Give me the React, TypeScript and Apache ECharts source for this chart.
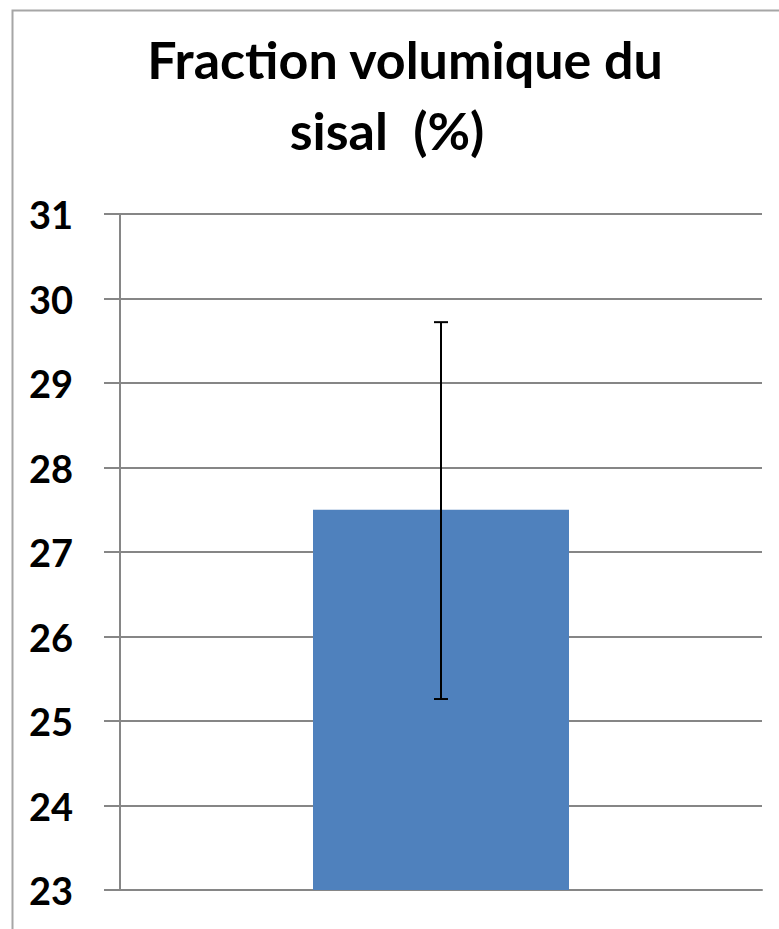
import React, { useEffect, useRef } from "react";
import * as echarts from "echarts";

const categories = [""];
const values = [27.5];
const errorLow = [25.26];
const errorHigh = [29.72];
const titleLines = ["Fraction volumique du", "sisal  (%)"];

export default function App() {
  const ref = useRef<HTMLDivElement>(null);
  useEffect(() => {
    if (!ref.current) return;
    const chart = echarts.init(ref.current, null, { renderer: "svg" });
    const font = "Lato";
    chart.setOption({
      animation: false,
      backgroundColor: "#ffffff",
      title: [
        {
          text: titleLines[0],
          left: 400,
          top: 28,
          textAlign: "center",
          textStyle: { fontFamily: font, fontWeight: "bold", fontSize: 52, color: "#000" },
        },
        {
          text: titleLines[1],
          left: 382,
          top: 99,
          textAlign: "center",
          textStyle: { fontFamily: font, fontWeight: "bold", fontSize: 52, color: "#000" },
        },
      ],
      graphic: [
        {
          type: "rect",
          left: 10,
          top: 8,
          shape: { width: 900, height: 1000 },
          style: { fill: "none", stroke: "#a6a6a6", lineWidth: 2 },
          silent: true,
          z: -1,
        },
      ],
      grid: { left: 120, right: 17, top: 214, bottom: 39, containLabel: false },
      xAxis: {
        type: "category",
        data: categories,
        axisLine: { show: true, lineStyle: { color: "#868686", width: 2 } },
        axisTick: { show: false },
        axisLabel: { show: false },
      },
      yAxis: {
        type: "value",
        min: 23,
        max: 31,
        interval: 1,
        axisLine: { show: true, lineStyle: { color: "#868686", width: 2 } },
        axisTick: { show: true, length: 16, inside: false, lineStyle: { color: "#868686", width: 2 } },
        axisLabel: {
          margin: 47,
          fontFamily: font,
          fontWeight: "bold",
          fontSize: 38,
          color: "#000",
        },
        splitLine: { show: true, lineStyle: { color: "#868686", width: 2 } },
      },
      series: [
        {
          type: "bar",
          data: values,
          barWidth: 256,
          itemStyle: { color: "#4F81BD" },
          z: 2,
        },
        {
          type: "custom",
          z: 5,
          data: categories.map((c, i) => [i, errorLow[i], errorHigh[i]]),
          renderItem: (params: any, api: any) => {
            const x = api.value(0);
            const lo = api.coord([x, api.value(1)]);
            const hi = api.coord([x, api.value(2)]);
            const hw = 7;
            const st = { stroke: "#000", lineWidth: 2 };
            return {
              type: "group",
              children: [
                { type: "line", shape: { x1: lo[0], y1: lo[1], x2: hi[0], y2: hi[1] }, style: st },
                { type: "line", shape: { x1: lo[0] - hw, y1: lo[1], x2: lo[0] + hw, y2: lo[1] }, style: st },
                { type: "line", shape: { x1: hi[0] - hw, y1: hi[1], x2: hi[0] + hw, y2: hi[1] }, style: st },
              ],
            };
          },
        },
      ],
    });
    return () => chart.dispose();
  }, []);
  return (
    <div
      ref={ref}
      style={{ position: "absolute", left: 0, top: 0, width: 779, height: 929 }}
    />
  );
}
